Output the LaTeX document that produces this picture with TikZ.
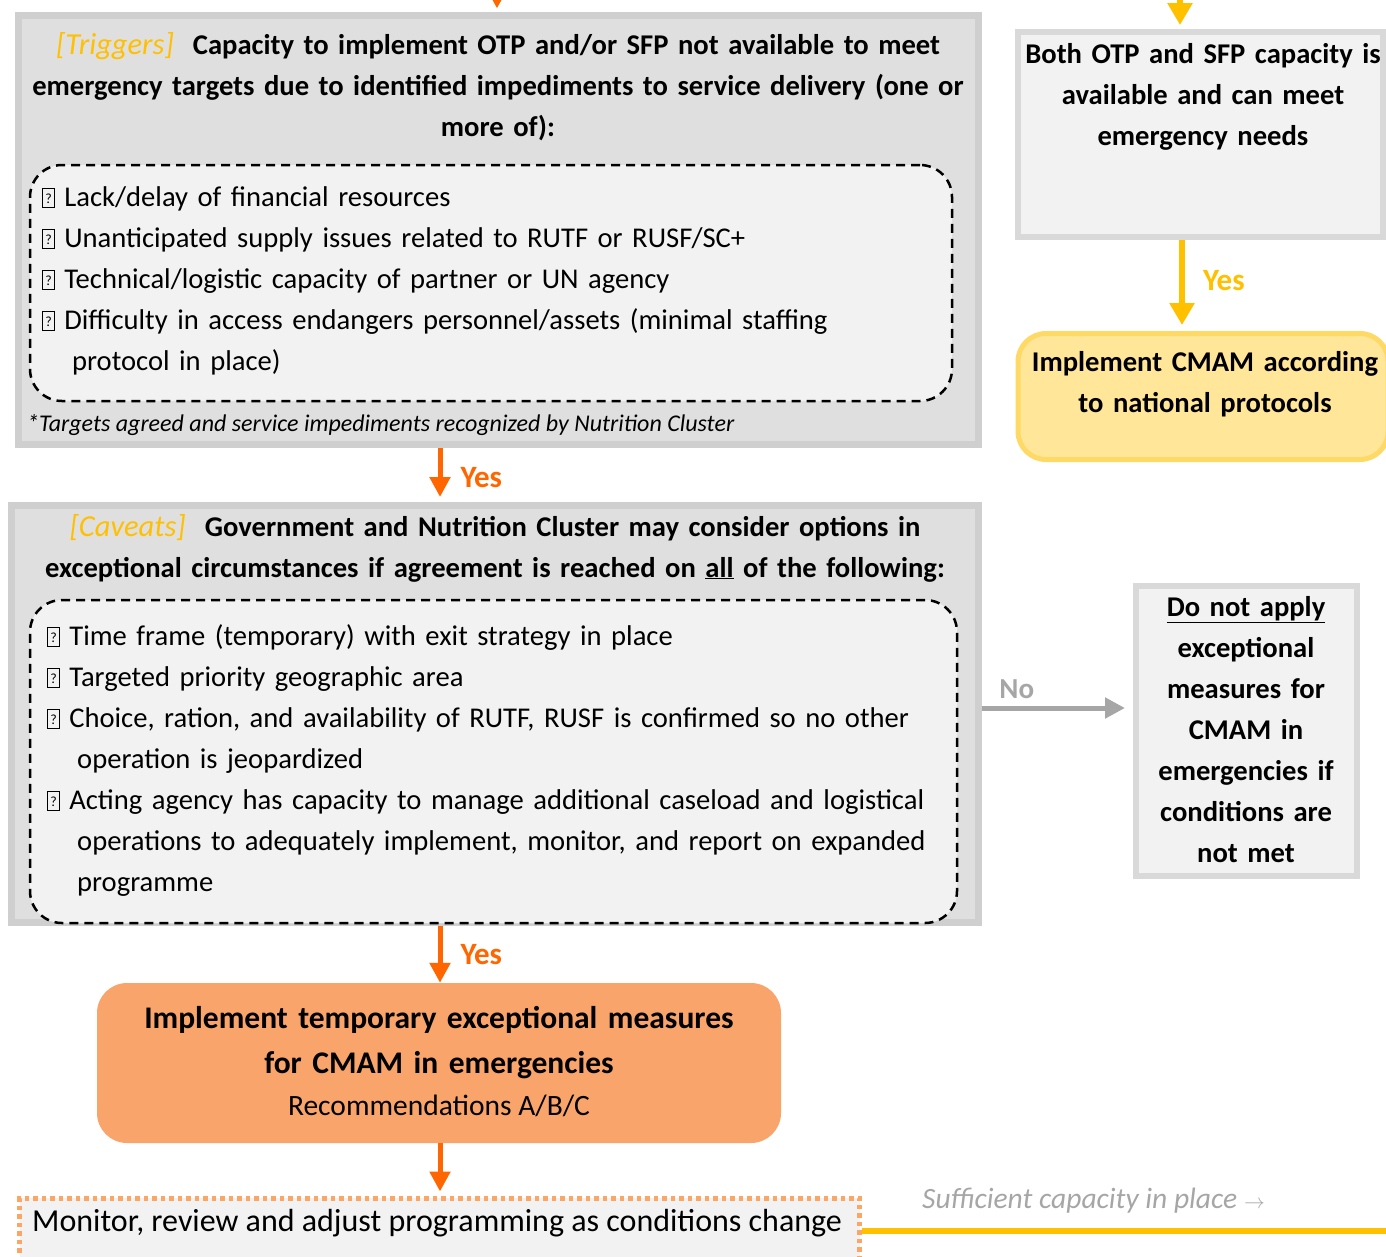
\documentclass[tikz,border=0pt]{standalone}
\usepackage{fontspec}
\setmainfont{Carlito}
\usepackage{xcolor}
\usetikzlibrary{arrows.meta, positioning}
\definecolor{paneledge}{HTML}{CFCFCF}
\definecolor{panelfill}{HTML}{DFDFDF}
\definecolor{palegray}{HTML}{F2F2F2}
\definecolor{edgegray}{HTML}{D9D9D9}
\definecolor{arrowgray}{HTML}{A6A6A6}
\definecolor{flame}{HTML}{FF6600}
\definecolor{gold}{HTML}{FFC000}
\definecolor{softorange}{HTML}{F9A46B}
\definecolor{dotorange}{HTML}{FBA665}
\definecolor{softyellow}{HTML}{FFE699}
\definecolor{edgeyellow}{HTML}{FFD966}
% missing-glyph box in front of each list item
\newcommand{\qbox}{{\fboxsep=0pt\fboxrule=0.8pt\fbox{\makebox[11pt]{\rule[-1pt]{0pt}{18pt}\raisebox{3pt}{\fontsize{14}{14}\selectfont ?}}}}}
\newcommand{\tag}[1]{{\color{gold}\mdseries\itshape\fontsize{30.5}{41}\selectfont [#1]}}
\tikzset{%
>={Triangle[width=20pt,length=20pt]},
% Specifications for style of nodes:
panel/.style = {rectangle, draw=paneledge, line width=7pt, fill=panelfill, inner sep=0pt},
checklist/.style = {rectangle, draw=black, line width=2.5pt, dash pattern=on 9pt off 6pt, fill=palegray, rounded corners=32pt, inner sep=0pt},
outcome/.style = {rectangle, draw=edgegray, line width=6pt, fill=palegray, inner sep=0pt},
national/.style = {rectangle, draw=edgeyellow, line width=5pt, fill=softyellow, rounded corners=28pt, inner sep=0pt},
exceptional/.style = {rectangle, fill=softorange, rounded corners=30pt, inner sep=0pt},
monitorbox/.style = {rectangle, draw=dotorange, line width=5pt, dash pattern=on 4.5pt off 4pt, fill=palegray, inner sep=0pt},
headtext/.style = {align=center, text width=1000pt, inner sep=0pt, font=\bfseries\fontsize{28.6}{41}\selectfont},
listtext/.style = {align=left, text width=920pt, inner sep=0pt, font=\fontsize{28.6}{41}\selectfont},
boxtext/.style = {align=center, text width=#1, inner sep=0pt, font=\bfseries\fontsize{28.6}{41}\selectfont},
orangeflow/.style = {->, draw=flame, line width=5pt},
yellowflow/.style = {->, draw=gold, line width=6pt, >={Triangle[width=24pt,length=22pt]}},
greyflow/.style = {->, draw=arrowgray, line width=5pt},
yeslabel/.style = {font=\bfseries\fontsize{31}{31}\selectfont, inner sep=0pt, anchor=west, xshift=18pt},
}

\begin{document}
\begin{tikzpicture}[x=1pt, y=-1pt]
        \useasboundingbox (0,0) rectangle (1386,1256);
        \clip (0,0) rectangle (1386,1256);
        % Specification of boxes (position, etc.)
        \node (triggers) [panel, minimum width=960pt, minimum height=429pt] at (498.5,230) {};
        \node (triglist) [checklist, minimum width=922pt, minimum height=236pt] at (491,283) {};
        \node (caveats) [panel, minimum width=967pt, minimum height=417pt] at (495,714) {};
        \node (cavlist) [checklist, minimum width=927pt, minimum height=323pt] at (493.5,761.5) {};
        \node (both) [outcome, minimum width=365pt, minimum height=205pt] at (1200.5,134.5) {};
        \node (national) [national, minimum width=370pt, minimum height=126pt] at (1203,396.5) {};
        \node (dontapply) [outcome, minimum width=221pt, minimum height=290pt] at (1246.5,731) {};
        \node (measures) [exceptional, minimum width=684pt, minimum height=160pt] at (439,1063) {};
        \node (monitor) [monitorbox, minimum width=840pt, minimum height=72pt] at (439.5,1234) {};

        % Texts
        \node (trigtitle) [headtext, anchor=base] at (498,54) {\tag{Triggers}\ \ Capacity to implement OTP and/or SFP not available to meet\\ emergency targets due to identified impediments to service delivery (one or\\ more of):};
        \node (trigitems) [listtext, anchor=base west] at (42,206) {\qbox{} Lack/delay of financial resources\\ \qbox{} Unanticipated supply issues related to RUTF or RUSF/SC+\\ \qbox{} Technical/logistic capacity of partner or UN agency\\ \qbox{} Difficulty in access endangers personnel/assets (minimal staffing\\ \hspace*{30pt}protocol in place)};
        \node (trignote) [anchor=base west, inner sep=0pt, font=\itshape\fontsize{24}{24}\selectfont] at (27,431) {*Targets agreed and service impediments recognized by Nutrition Cluster};
        \node (cavtitle) [headtext, anchor=base] at (495,536) {\tag{Caveats}\ \ Government and Nutrition Cluster may consider options in\\ exceptional circumstances if agreement is reached on \underline{all} of the following:};
        \node (cavitems) [listtext, anchor=base west] at (47,645) {\qbox{} Time frame (temporary) with exit strategy in place\\ \qbox{} Targeted priority geographic area\\ \qbox{} Choice, ration, and availability of RUTF, RUSF is confirmed so no other\\ \hspace*{30pt}operation is jeopardized\\ \qbox{} Acting agency has capacity to manage additional caseload and logistical\\ \hspace*{30pt}operations to adequately implement, monitor, and report on expanded\\ \hspace*{30pt}programme};
        \node (bothtext) [boxtext=370pt, anchor=base] at (1203,63) {Both OTP and SFP capacity is\\ available and can meet\\ emergency needs};
        \node (nattext) [boxtext=370pt, anchor=base] at (1205,371) {Implement CMAM according\\ to national protocols};
        \node (donttext) [boxtext=220pt, anchor=base] at (1246,616) {\underline{Do not apply}\\ exceptional\\ measures for\\ CMAM in\\ emergencies if\\ conditions are\\ not met};
        \node (meastext) [boxtext=680pt, anchor=base, font=\bfseries\fontsize{31.5}{45}\selectfont] at (439,1028) {Implement temporary exceptional measures\\ for CMAM in emergencies};
        \node (recotext) [anchor=base, inner sep=0pt, font=\fontsize{29.5}{29.5}\selectfont] at (439,1115) {Recommendations A/B/C};
        \node (montext) [anchor=base west, inner sep=0pt, font=\fontsize{32}{32}\selectfont] at (32,1231) {Monitor, review and adjust programming as conditions change};
        \node (sufficient) [anchor=base west, inner sep=0pt, text=arrowgray, font=\itshape\fontsize{29.5}{29.5}\selectfont] at (922,1208) {Sufficient capacity in place {\fontsize{20}{20}\selectfont$\rightarrow$}};

        % Connectors
        \coordinate (leftin) at (497,-10);
        \coordinate (rightin) at (1180,-10);
        \coordinate (spine) at (440,0);
        \coordinate (rightspine) at (1182,0);
        \coordinate (capend) at (1400,1231);
        \draw [orangeflow, shorten >=3.5pt] (leftin) -- (leftin |- triggers.north);
        \draw [yellowflow, shorten >=4pt] (rightin) -- (rightin |- both.north);
        \draw [orangeflow, shorten >=5pt] (triggers.south -| spine) -- (caveats.north -| spine) node[pos=0.5, yeslabel, text=flame, yshift=-3pt]{Yes};
        \draw [yellowflow, shorten >=6pt] (both.south -| rightspine) -- (national.north -| rightspine) node[pos=0.45, yeslabel, text=gold]{Yes};
        \draw [greyflow, shorten >=8pt] ([yshift=6pt]caveats.east) -- ([yshift=6pt]caveats.east -| dontapply.west) node[pos=0.23, above=7pt, inner sep=0pt, text=arrowgray, font=\bfseries\fontsize{29}{29}\selectfont]{No};
        \draw [orangeflow] (caveats.south -| spine) -- (measures.north -| spine) node[pos=0.5, yeslabel, text=flame]{Yes};
        \draw [orangeflow, shorten >=4pt] (measures.south -| spine) -- (monitor.north -| spine);
        \draw [draw=gold, line width=6pt] (monitor.east |- capend) -- (capend);
    \end{tikzpicture}
\end{document}
